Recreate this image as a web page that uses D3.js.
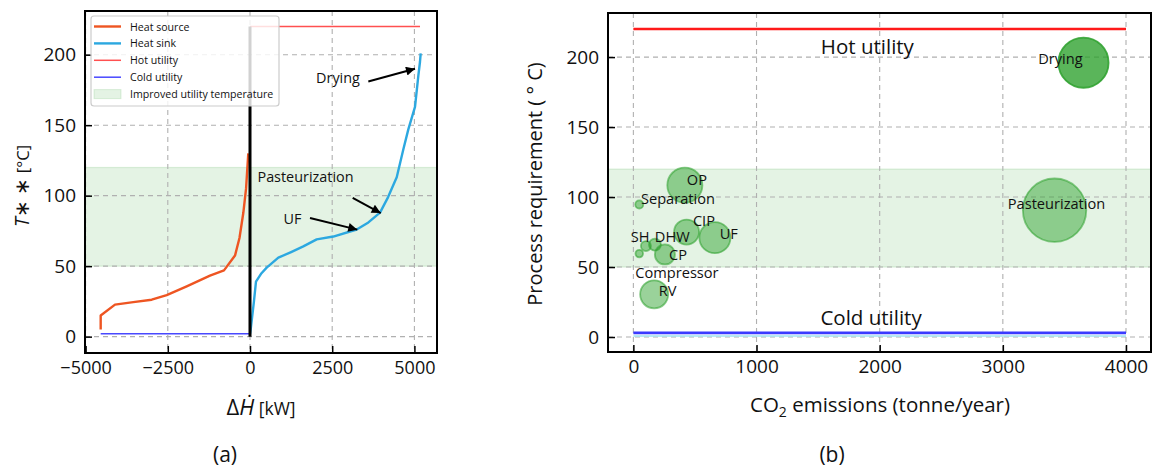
<!DOCTYPE html>
<html><head><meta charset="utf-8">
<script src="https://cdn.jsdelivr.net/npm/d3@7"></script>
<style>body{margin:0;background:#fff} svg{display:block} text{font-family:"Open Sans","Noto Sans",sans-serif;fill:#111}</style>
</head><body><svg id="c" width="1160" height="470"></svg>
<script>
// ---------- Data: panel (a) composite curves ----------
const sourceDH = [-4541,-4541,-4106,-3549,-2990,-2533,-1925,-1217,-791,-456,-320,-204,-120,-52];
const sourceT  = [5,15,22.7,24.5,26.2,29.5,35.7,43.3,47,57.5,70,87.7,105,130];
const sinkDH = [0,20,120,182,350,507,862,1250,1621,2028,2534,3245,3600,3954,4200,4462,4664,4815,5018,5119,5170,5191];
const sinkT  = [2,5,25,39,45,49,56,60,64,69,71,76,81,88,99,113,133,147,163,185,195,201];
const hotUtilityT = 220;
const hotUtilityDH = [0,5170];
const coldUtilityT = 2;
const coldUtilityDH = [-4541,0];
const pinchLineT = [0,220];
const improvedBand = [50,120];
const leftXTicks = [-5000,-2500,0,2500,5000];
const yTicks = [0,50,100,150,200];
const legendLabels = ["Heat source","Heat sink","Hot utility","Cold utility","Improved utility temperature"];
const annoLabels = ["Drying","Pasteurization","UF"];
const annoTextX = [2676,1688,1293];
const annoTextY = [183.7,113.5,83.5];
const annoTailX = [3598,3123,1825];
const annoTailY = [181,98.4,84.2];
const annoTipX  = [5018,3975,3263];
const annoTipY  = [190,87.7,75.9];

// ---------- Data: panel (b) bubbles ----------
const processes = ["Drying","Pasteurization","OP","Separation","CIP","UF","SH","DHW","CP","Compressor","RV"];
const co2Emissions = [3655,3420,418,48,432,662,102,175,256,48,169];
const tempRequirement = [196,90.6,108.5,94.7,75,71,65,66,59,59.6,30.5];
const heatLoad = [625,1000,306,16,156,240,25,36,100,14,196];
const labelX = [3468,3436,516,362,573,775,54,316,362,354,277];
const labelY = [199.4,95.9,112.6,99.0,83.5,74.2,72.4,72.4,59.6,46.5,33.4];
const rightXTicks = [0,1000,2000,3000,4000];
const rightHotT = 220, rightColdT = 3, rightColdLowT = 0.8;
const rightUtilityX = [0,4000];
const utilityTextLabels = ["Hot utility","Cold utility"];
const utilityTextX = [1900,1930];
const utilityTextY = [208,14];

const svg = d3.select("#c");
const green = "#2ca02c";

// ---------- Panel (a) ----------
const A = {l:85,r:437,t:11,b:353};
const xa = d3.scaleLinear().domain([-5018,5687]).range([A.l,A.r]);
const ya = d3.scaleLinear().domain([-11.6,231]).range([A.b,A.t]);
const ga = svg.append("g");

function drawGrid(g, x, y, xt, yt, box){
  g.append("g").selectAll("line").data(xt).join("line")
    .attr("x1",d=>x(d)).attr("x2",d=>x(d)).attr("y1",box.t).attr("y2",box.b)
    .attr("stroke","#b0b0b0").attr("stroke-width",1.1).attr("stroke-dasharray","5,4");
  g.append("g").selectAll("line").data(yt).join("line")
    .attr("y1",d=>y(d)).attr("y2",d=>y(d)).attr("x1",box.l).attr("x2",box.r)
    .attr("stroke","#b0b0b0").attr("stroke-width",1.1).attr("stroke-dasharray","5,4");
}
function drawBand(g, y, box){
  g.append("rect").attr("x",box.l).attr("width",box.r-box.l)
    .attr("y",y(improvedBand[1])).attr("height",y(improvedBand[0])-y(improvedBand[1]))
    .attr("fill",green).attr("fill-opacity",0.13)
    .attr("stroke",green).attr("stroke-opacity",0.15).attr("stroke-width",1.2);
}
function drawAxes(g, x, y, xt, yt, box, xfs, yfs){
  const ax = g.append("g").attr("transform",`translate(0,${box.b})`)
    .call(d3.axisBottom(x).tickValues(xt).tickSize(-7).tickPadding(8).tickFormat(d3.format("d")));
  ax.select(".domain").remove();
  ax.selectAll("line").attr("stroke","#000").attr("stroke-width",1.5);
  ax.selectAll("text").attr("font-size",xfs).attr("fill","#111").style("font-family","'Open Sans'");
  const ay = g.append("g").attr("transform",`translate(${box.l},0)`)
    .call(d3.axisLeft(y).tickValues(yt).tickSize(-7).tickPadding(9));
  ay.select(".domain").remove();
  ay.selectAll("line").attr("stroke","#000").attr("stroke-width",1.5);
  ay.selectAll("text").attr("font-size",yfs).attr("fill","#111").style("font-family","'Open Sans'");
  g.append("rect").attr("x",box.l).attr("y",box.t).attr("width",box.r-box.l).attr("height",box.b-box.t)
    .attr("fill","none").attr("stroke","#000").attr("stroke-width",2);
}

drawBand(ga, ya, A);
drawGrid(ga, xa, ya, leftXTicks, yTicks, A);

const line = d3.line();
ga.append("path").attr("d",line(sourceDH.map((d,i)=>[xa(d),ya(sourceT[i])])))
  .attr("fill","none").attr("stroke","#ee5522").attr("stroke-width",2.4).attr("stroke-linejoin","round");
ga.append("path").attr("d",line(sinkDH.map((d,i)=>[xa(d),ya(sinkT[i])])))
  .attr("fill","none").attr("stroke","#2ca8e0").attr("stroke-width",2.4).attr("stroke-linejoin","round");
ga.append("line").attr("x1",xa(hotUtilityDH[0])).attr("x2",xa(hotUtilityDH[1]))
  .attr("y1",ya(hotUtilityT)).attr("y2",ya(hotUtilityT)).attr("stroke","#ff5050").attr("stroke-width",1.5);
ga.append("line").attr("x1",xa(coldUtilityDH[0])).attr("x2",xa(coldUtilityDH[1]))
  .attr("y1",ya(coldUtilityT)).attr("y2",ya(coldUtilityT)).attr("stroke","#4848ff").attr("stroke-width",1.5);
ga.append("line").attr("x1",xa(0)).attr("x2",xa(0))
  .attr("y1",ya(pinchLineT[0])).attr("y2",ya(pinchLineT[1])).attr("stroke","#000").attr("stroke-width",3);

// annotations
svg.append("defs").append("marker").attr("id","ah").attr("viewBox","0 0 10 10")
  .attr("refX",10).attr("refY",5).attr("markerWidth",12).attr("markerHeight",9)
  .attr("markerUnits","userSpaceOnUse").attr("orient","auto")
  .append("path").attr("d","M0,0 L10,5 L0,10 z").attr("fill","#000");
annoLabels.forEach((t,i)=>{
  ga.append("text").attr("x",xa(annoTextX[i])).attr("y",ya(annoTextY[i]))
    .attr("text-anchor","middle").attr("dominant-baseline","central").attr("font-size",14.4).text(t);
  ga.append("line").attr("x1",xa(annoTailX[i])).attr("y1",ya(annoTailY[i]))
    .attr("x2",xa(annoTipX[i])).attr("y2",ya(annoTipY[i]))
    .attr("stroke","#000").attr("stroke-width",2).attr("marker-end","url(#ah)");
});

drawAxes(ga, xa, ya, leftXTicks, yTicks, A, 18, 19);

// legend
const lg = ga.append("g");
lg.append("rect").attr("x",91).attr("y",16).attr("width",188).attr("height",90).attr("rx",3)
  .attr("fill","#fff").attr("fill-opacity",0.82).attr("stroke","#cccccc").attr("stroke-width",1.2);
const legendStyles = [
  {c:"#ee5522",w:2.4},{c:"#2ca8e0",w:2.4},{c:"#ff5050",w:1.5},{c:"#4848ff",w:1.5},{patch:true}];
legendLabels.forEach((t,i)=>{
  const yy = 26.5 + i*16.9;
  const s = legendStyles[i];
  if(s.patch){
    lg.append("rect").attr("x",94).attr("y",yy-4.5).attr("width",27).attr("height",9)
      .attr("fill",green).attr("fill-opacity",0.13).attr("stroke",green).attr("stroke-opacity",0.15);
  } else {
    lg.append("line").attr("x1",94).attr("x2",121).attr("y1",yy).attr("y2",yy)
      .attr("stroke",s.c).attr("stroke-width",s.w);
  }
  lg.append("text").attr("x",130).attr("y",yy).attr("dominant-baseline","central")
    .attr("font-size",10.6).text(t);
});

// axis labels (a)
svg.append("text").attr("transform","translate(29,186) rotate(-90)").attr("text-anchor","middle")
  .attr("font-size",19.5).html('<tspan font-style="italic">T</tspan>∗ ∗ <tspan font-size="16.5">[°C]</tspan>');
svg.append("text").attr("x",261).attr("y",415).attr("text-anchor","middle").attr("font-size",22)
  .html('Δ<tspan font-style="italic">Ḣ</tspan><tspan font-size="17.5"> [kW]</tspan>');
svg.append("text").attr("x",225).attr("y",462).attr("text-anchor","middle").attr("font-size",21).text("(a)");

// ---------- Panel (b) ----------
const B = {l:608,r:1151,t:13,b:352};
const xb = d3.scaleLinear().domain([-206,4203]).range([B.l,B.r]);
const yb = d3.scaleLinear().domain([-10.7,231.5]).range([B.b,B.t]);
const rb = d3.scaleSqrt().domain([0,1000]).range([0,31.7]);
const gb = svg.append("g");
drawBand(gb, yb, B);
drawGrid(gb, xb, yb, rightXTicks, yTicks, B);

gb.append("line").attr("x1",xb(rightUtilityX[0])).attr("x2",xb(rightUtilityX[1]))
  .attr("y1",yb(rightHotT)).attr("y2",yb(rightHotT)).attr("stroke","#ff1a1a").attr("stroke-width",2.5);
gb.append("line").attr("x1",xb(rightUtilityX[0])).attr("x2",xb(rightUtilityX[1]))
  .attr("y1",yb(rightColdLowT)).attr("y2",yb(rightColdLowT)).attr("stroke","#9fe3f2").attr("stroke-width",1.5);
gb.append("line").attr("x1",xb(rightUtilityX[0])).attr("x2",xb(rightUtilityX[1]))
  .attr("y1",yb(rightColdT)).attr("y2",yb(rightColdT)).attr("stroke","#3a3aff").attr("stroke-width",2.8);

const bubbles = processes.map((p,i)=>({p,x:co2Emissions[i],y:tempRequirement[i],s:heatLoad[i],lx:labelX[i],ly:labelY[i]}));
gb.append("g").selectAll("circle").data(bubbles).join("circle")
  .attr("cx",d=>xb(d.x)).attr("cy",d=>yb(d.y)).attr("r",d=>rb(d.s))
  .attr("fill",green).attr("fill-opacity",d=>d.p==="Drying"?0.78:0.48)
  .attr("stroke",green).attr("stroke-opacity",d=>d.p==="Drying"?0.85:0.55).attr("stroke-width",1.8);
gb.append("g").selectAll("text").data(bubbles).join("text")
  .attr("x",d=>xb(d.lx)).attr("y",d=>yb(d.ly)).attr("text-anchor","middle").attr("dominant-baseline","central")
  .attr("font-size",14.6).text(d=>d.p);
utilityTextLabels.forEach((t,i)=>{
  gb.append("text").attr("x",xb(utilityTextX[i])).attr("y",yb(utilityTextY[i]))
    .attr("text-anchor","middle").attr("dominant-baseline","central").attr("font-size",20.5).text(t);
});

drawAxes(gb, xb, yb, rightXTicks, yTicks, B, 19, 19);

svg.append("text").attr("transform","translate(542,184) rotate(-90)").attr("text-anchor","middle")
  .attr("font-size",20).text("Process requirement ( ° C)");
svg.append("text").attr("x",880).attr("y",412).attr("text-anchor","middle").attr("font-size",20.5)
  .html('CO<tspan font-size="14" dy="5">2</tspan><tspan dy="-5"> emissions (tonne/year)</tspan>');
svg.append("text").attr("x",832).attr("y",462).attr("text-anchor","middle").attr("font-size",21).text("(b)");
</script></body></html>
